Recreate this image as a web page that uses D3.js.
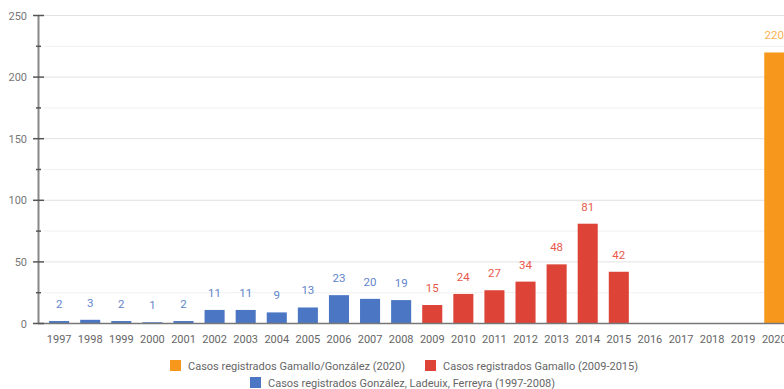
<!DOCTYPE html>
<html><head><meta charset="utf-8">
<script src="https://cdn.jsdelivr.net/npm/d3@7"></script>
<style>body{margin:0;background:#fff;overflow:hidden}svg{display:block;font-family:Roboto,sans-serif}</style>
</head><body><svg id="c" width="784" height="389"></svg>
<script>
const years = ["1997","1998","1999","2000","2001","2002","2003","2004","2005","2006","2007","2008","2009","2010","2011","2012","2013","2014","2015","2016","2017","2018","2019","2020"];
const seriesNames = ["Casos registrados González, Ladeuix, Ferreyra (1997-2008)","Casos registrados Gamallo (2009-2015)","Casos registrados Gamallo/González (2020)"];
const seriesColors = ["#4a76c4","#dd4437","#f7981d"];
const labelColors = ["#5f86cc","#e9584b","#f9b04f"];
const gonzalez = [2,3,2,1,2,11,11,9,13,23,20,19,null,null,null,null,null,null,null,null,null,null,null,null];
const gamallo = [null,null,null,null,null,null,null,null,null,null,null,null,15,24,27,34,48,81,42,null,null,null,null,null];
const gamalloGonzalez = [null,null,null,null,null,null,null,null,null,null,null,null,null,null,null,null,null,null,null,null,null,null,null,220];
const yMajorTicks = [0,50,100,150,200,250];
const yMinorTicks = [25,75,125,175,225];

const svg = d3.select("#c");
const x = d3.scaleBand().domain(years).range([43.5, 43.5+24*31.1]).paddingInner(0.355).paddingOuter(0.18);
const y = d3.scaleLinear().domain([0,250]).range([323.5,15.5]);

// gridlines
svg.append("g").selectAll("line").data(yMinorTicks).join("line")
  .attr("x1",44).attr("x2",784).attr("y1",d=>y(d)).attr("y2",d=>y(d))
  .attr("stroke","#f0f0f0").attr("stroke-width",1);
svg.append("g").selectAll("line").data(yMajorTicks.filter(d=>d>0)).join("line")
  .attr("x1",44).attr("x2",784).attr("y1",d=>y(d)).attr("y2",d=>y(d))
  .attr("stroke","#e2e2e2").attr("stroke-width",1);

// bars
const all = [gonzalez, gamallo, gamalloGonzalez];
all.forEach((vals,si)=>{
  const data = years.map((yr,i)=>({yr, v: vals[i]})).filter(d=>d.v!=null);
  const g = svg.append("g");
  g.selectAll("rect").data(data).join("rect")
    .attr("x",d=>x(d.yr)).attr("width",x.bandwidth())
    .attr("y",d=>y(d.v)).attr("height",d=>y(0)-y(d.v))
    .attr("fill",seriesColors[si]);
  g.selectAll("text").data(data).join("text")
    .attr("x",d=>x(d.yr)+x.bandwidth()/2).attr("y",d=>y(d.v)-13)
    .attr("text-anchor","middle").attr("font-size",11.5)
    .attr("fill",labelColors[si]).text(d=>d.v);
});

// x axis
svg.append("line").attr("x1",38).attr("x2",784).attr("y1",y(0)).attr("y2",y(0))
  .attr("stroke","#777").attr("stroke-width",1.5);
const xa = svg.append("g").attr("transform",`translate(0,${y(0)})`)
  .call(d3.axisBottom(x).tickSize(0).tickPadding(12));
xa.select(".domain").remove();
xa.selectAll("text").attr("font-size",11).attr("fill","#666").attr("font-family","Roboto,sans-serif");

// y axis
svg.append("line").attr("x1",38.5).attr("x2",38.5).attr("y1",y(250)).attr("y2",y(0))
  .attr("stroke","#888").attr("stroke-width",2);
svg.append("g").selectAll("line").data(yMajorTicks).join("line")
  .attr("x1",33).attr("x2",44).attr("y1",d=>y(d)).attr("y2",d=>y(d))
  .attr("stroke","#555").attr("stroke-width",1.5);
svg.append("g").selectAll("line").data(yMinorTicks).join("line")
  .attr("x1",36).attr("x2",41).attr("y1",d=>y(d)).attr("y2",d=>y(d))
  .attr("stroke","#555").attr("stroke-width",1.5);
svg.append("g").selectAll("text").data(yMajorTicks).join("text")
  .attr("x",27).attr("y",d=>y(d)+4).attr("text-anchor","end")
  .attr("font-size",11).attr("fill","#777").text(d=>d);

// legend
const legend = [
  {i:2, x:170, y:360},
  {i:1, x:425, y:360},
  {i:0, x:250, y:377}
];
const lg = svg.append("g");
legend.forEach(l=>{
  lg.append("rect").attr("x",l.x).attr("y",l.y).attr("width",11).attr("height",11).attr("fill",seriesColors[l.i]);
  lg.append("text").attr("x",l.x+18).attr("y",l.y+9.5).attr("font-size",11).attr("fill","#666").text(seriesNames[l.i]);
});
</script></body></html>
